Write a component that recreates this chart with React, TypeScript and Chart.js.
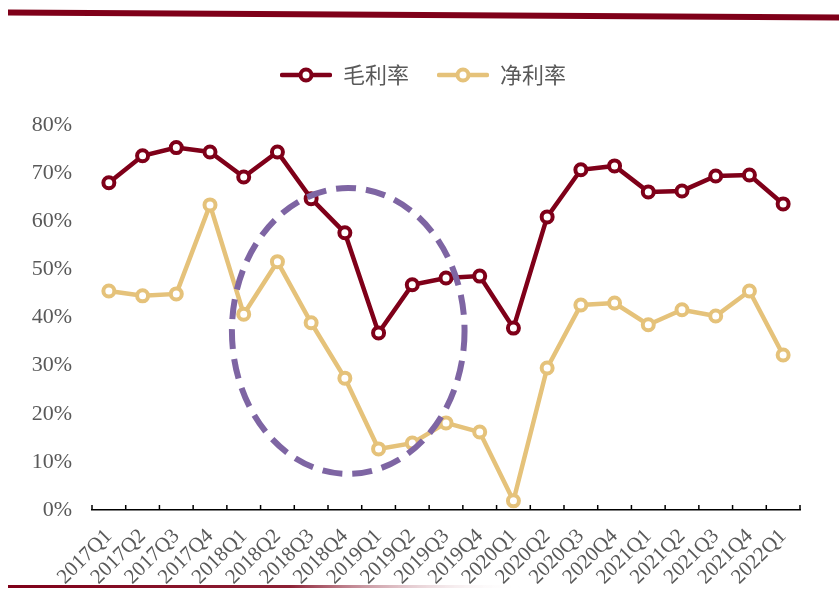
import React, { useEffect, useRef } from 'react';
import { Chart, registerables } from 'chart.js';

Chart.register(...registerables);

const categories = [
  '2017Q1', '2017Q2', '2017Q3', '2017Q4',
  '2018Q1', '2018Q2', '2018Q3', '2018Q4',
  '2019Q1', '2019Q2', '2019Q3', '2019Q4',
  '2020Q1', '2020Q2', '2020Q3', '2020Q4',
  '2021Q1', '2021Q2', '2021Q3', '2021Q4',
  '2022Q1',
];
const grossMargin = [68.0, 73.6, 75.3, 74.4, 69.2, 74.4, 64.7, 57.6, 36.8, 46.8, 48.2, 48.6, 37.8, 60.9, 70.7, 71.5, 66.1, 66.3, 69.4, 69.6, 63.6];
const netMargin = [45.5, 44.5, 44.9, 63.4, 40.7, 51.6, 38.9, 27.4, 12.7, 13.9, 18.1, 16.2, 1.9, 29.5, 42.6, 43.0, 38.5, 41.6, 40.3, 45.5, 32.2];
const seriesNames = ['毛利率', '净利率'];
const yTicks = { min: 0, max: 80, step: 10 };

// highlight ellipse (in data units: category index and percent)
const ellipseCenter = { index: 7.1, value: 37.2 };
const ellipseRadius = { index: 3.45, value: 29.7 };

const RED = '#7F0019';
const GOLD = '#E5C27A';
const PURPLE = '#7E65A3';
const TEXT = '#595959';

function makeMarker(color: string) {
  const c = document.createElement('canvas');
  c.width = 52;
  c.height = 18;
  const ctx = c.getContext('2d')!;
  ctx.strokeStyle = color;
  ctx.lineWidth = 4.5;
  ctx.lineCap = 'round';
  ctx.beginPath();
  ctx.moveTo(2, 9);
  ctx.lineTo(50, 9);
  ctx.stroke();
  ctx.beginPath();
  ctx.arc(26, 9, 5.5, 0, Math.PI * 2);
  ctx.fillStyle = '#fff';
  ctx.fill();
  ctx.lineWidth = 4;
  ctx.stroke();
  return c;
}

export default function App() {
  const ref = useRef<HTMLCanvasElement>(null);

  useEffect(() => {
    const markers = [makeMarker(RED), makeMarker(GOLD)];

    const legendMargin = {
      id: 'legendMargin',
      beforeInit(chart: any) {
        if (!chart.legend) return;
        const orig = chart.legend.fit;
        chart.legend.fit = function () {
          orig.bind(chart.legend)();
          this.height += 29;
        };
      },
      afterLayout(chart: any) {
        if (chart.legend) chart.legend.left += 46;
      },
    };

    const decorations = {
      id: 'decorations',
      beforeDraw(chart: any) {
        const ctx = chart.ctx;
        ctx.save();
        ctx.strokeStyle = RED;
        ctx.lineWidth = 6;
        ctx.beginPath();
        ctx.moveTo(8, 12.5);
        ctx.lineTo(839, 17.5);
        ctx.stroke();
        const g = ctx.createLinearGradient(8, 0, 520, 0);
        g.addColorStop(0, RED);
        g.addColorStop(0.55, '#8c2035');
        g.addColorStop(1, 'rgba(255,255,255,0)');
        ctx.strokeStyle = g;
        ctx.lineWidth = 3;
        ctx.beginPath();
        ctx.moveTo(8, 586.5);
        ctx.lineTo(520, 586.5);
        ctx.stroke();
        ctx.restore();
      },
      beforeDatasetsDraw(chart: any) {
        const ctx = chart.ctx;
        const xs = chart.scales.x;
        const bottom = chart.chartArea.bottom;
        ctx.save();
        ctx.strokeStyle = '#000';
        ctx.lineWidth = 1.5;
        for (let i = 0; i <= categories.length; i++) {
          const px = xs.getPixelForValue(i - 0.5);
          ctx.beginPath();
          ctx.moveTo(px, bottom);
          ctx.lineTo(px, bottom - 5);
          ctx.stroke();
        }
        ctx.restore();
      },
      afterDatasetsDraw(chart: any) {
        const ctx = chart.ctx;
        const xs = chart.scales.x;
        const ys = chart.scales.y;
        const cx = xs.getPixelForValue(ellipseCenter.index);
        const cy = ys.getPixelForValue(ellipseCenter.value);
        const rx = xs.getPixelForValue(ellipseCenter.index + ellipseRadius.index) - cx;
        const ry = ys.getPixelForValue(ellipseCenter.value - ellipseRadius.value) - cy;
        ctx.save();
        ctx.strokeStyle = PURPLE;
        ctx.lineWidth = 6;
        ctx.setLineDash([20, 10]);
        ctx.beginPath();
        ctx.ellipse(cx, cy, Math.abs(rx), Math.abs(ry), 0, 0, Math.PI * 2);
        ctx.stroke();
        ctx.restore();
      },
    };

    const mkDs = (label: string, data: number[], color: string) => ({
      label,
      data,
      borderColor: color,
      backgroundColor: color,
      borderWidth: 4.5,
      pointRadius: 5.5,
      pointBorderWidth: 4,
      pointBackgroundColor: '#fff',
      pointBorderColor: color,
      pointHoverRadius: 5.5,
      tension: 0,
    });

    const chart = new Chart(ref.current!, {
      type: 'line',
      data: {
        labels: categories,
        datasets: [
          mkDs(seriesNames[0], grossMargin, RED),
          mkDs(seriesNames[1], netMargin, GOLD),
        ],
      },
      options: {
        animation: false,
        responsive: true,
        maintainAspectRatio: false,
        layout: { padding: { top: 36, right: 39, left: 0, bottom: 0 } },
        plugins: {
          tooltip: { enabled: false },
          legend: {
            position: 'top',
            labels: {
              usePointStyle: true,
              pointStyleWidth: 52,
              padding: 28,
              color: TEXT,
              font: { family: '"Noto Sans CJK SC", sans-serif', size: 22 },
              generateLabels: (ch: any) =>
                ch.data.datasets.map((ds: any, i: number) => ({
                  text: ds.label,
                  pointStyle: markers[i],
                  fillStyle: ds.borderColor,
                  strokeStyle: ds.borderColor,
                  lineWidth: 0,
                  hidden: false,
                  datasetIndex: i,
                  fontColor: TEXT,
                })),
            },
          },
        },
        scales: {
          x: {
            type: 'category',
            offset: true,
            grid: { display: false, offset: true },
            border: { display: true, color: '#000', width: 1.5 },
            ticks: {
              autoSkip: false,
              maxRotation: 45,
              minRotation: 45,
              padding: 6,
              color: TEXT,
              font: { family: '"Liberation Serif", serif', size: 21 },
            },
            afterFit(scale: any) {
              scale.height = 80;
            },
          },
          y: {
            min: yTicks.min,
            max: yTicks.max,
            grid: { display: false },
            border: { display: false },
            ticks: {
              stepSize: yTicks.step,
              padding: 12,
              color: TEXT,
              font: { family: '"Liberation Serif", serif', size: 22 },
              callback: (v: any) => `${v}%`,
            },
            afterFit(scale: any) {
              scale.width = 92;
            },
          },
        },
      },
      plugins: [legendMargin, decorations],
    } as any);

    return () => chart.destroy();
  }, []);

  return (
    <div style={{ position: 'fixed', left: 0, top: 0, width: 839, height: 590, background: '#fff' }}>
      <canvas ref={ref} />
    </div>
  );
}
